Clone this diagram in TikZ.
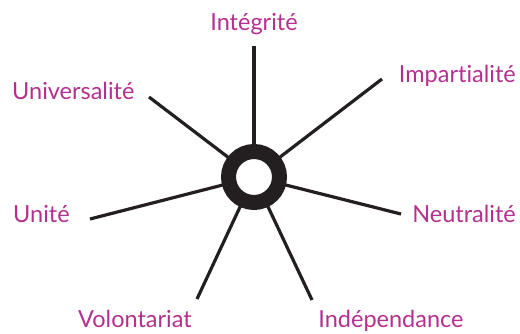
\documentclass[tikz,border=0pt]{standalone}
\usepackage{fontspec}
\setmainfont{Lato}[Ligatures=NoCommon]
\usepackage{xcolor}
\usetikzlibrary{backgrounds}
\definecolor{valeurM}{HTML}{B4308F}
\definecolor{rayonK}{HTML}{231F20}

\begin{document}
\begin{tikzpicture}[
  x=1pt, y=-1pt,
  val/.style={text=valeurM, font=\fontsize{23.5}{28}\selectfont, inner sep=0pt},
  rayon/.style={draw=rayonK, line width=3.2pt},
  moyeu/.style={circle, draw=rayonK, line width=15pt, fill=white, minimum size=51pt, inner sep=0pt}
]
\useasboundingbox (0,0) rectangle (520,333);

% Hub
\node[moyeu] (hub) at (254,177) {};

% Labels
\node[val, anchor=base] (integ) at (254,30) {Intégrité};
\node[val, anchor=base east] (impart) at (516,82) {Impartialité};
\node[val, anchor=base west] (univ) at (12,99) {Universalité};
\node[val, anchor=base west] (unite) at (13,222) {Unité};
\node[val, anchor=base east] (neutre) at (516,222) {Neutralité};
\node[val, anchor=base] (volont) at (135,327) {Volontariat};
\node[val, anchor=base] (indep) at (391,327) {Indépendance};

% Spoke ends
\coordinate (e1) at (254,46);
\coordinate (e2) at (382,79);
\coordinate (e3) at (149,97);
\coordinate (e4) at (90,219);
\coordinate (e5) at (401,214);
\coordinate (e6) at (197,299);
\coordinate (e7) at (312,300);

\begin{scope}[on background layer]
\foreach \e in {e1,e2,e3,e4,e5,e6,e7}
  \draw[rayon] (hub.center) -- (\e);
\end{scope}
\end{tikzpicture}
\end{document}
